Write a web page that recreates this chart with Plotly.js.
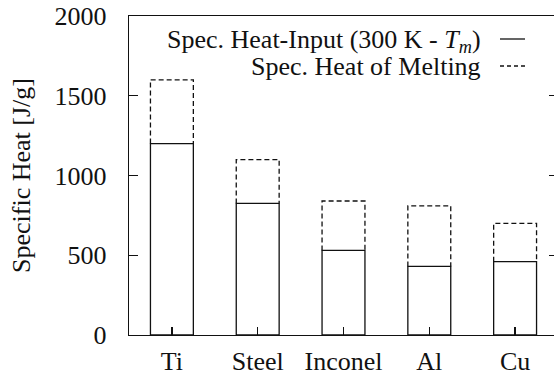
<!DOCTYPE html>
<html>
<head>
<meta charset="utf-8">
<script src="https://cdn.plot.ly/plotly-3.0.1.min.js"></script>
<style>
html, body { margin: 0; padding: 0; overflow: hidden; background: #fff; }
</style>
</head>
<body>
<div id="chart"></div>
<script>
// ---- data ----
const categories = ["Ti", "Steel", "Inconel", "Al", "Cu"];
const heatInput = [1200, 825, 530, 430, 460];      // Spec. Heat-Input (300 K - Tm)
const heatMelting = [400, 275, 310, 380, 240];     // Spec. Heat of Melting
const yTicks = [0, 500, 1000, 1500, 2000];
const legendLabels = ["Spec. Heat-Input (300 K - <i>T</i><sub><i>m</i></sub>)", "Spec. Heat of Melting"];

// ---- build ----
const serifFamily = "Liberation Serif";
const halfW = 0.25;
const idx = categories.map((c, i) => i);

const solidBars = {
  type: "bar",
  x: idx,
  y: heatInput,
  width: 0.5,
  marker: { color: "#ffffff", line: { color: "#111", width: 1.3 } },
  showlegend: false,
  hoverinfo: "skip"
};

// dashed outline of stacked melting part
const ox = [], oy = [];
idx.forEach(i => {
  const base = heatInput[i];
  const top = heatInput[i] + heatMelting[i];
  ox.push(i - halfW, i - halfW, i + halfW, i + halfW, null);
  oy.push(base, top, top, base, null);
});
const dashedOutline = {
  type: "scatter",
  mode: "lines",
  x: ox,
  y: oy,
  line: { color: "#111", width: 1.3, dash: "5px,3px" },
  showlegend: false,
  hoverinfo: "skip"
};

const W = 558, H = 376, ML = 129, MR = 0, MT = 16, MB = 41;
const pw = W - ML - MR, ph = H - MT - MB;
const px = v => (v - ML) / pw;
const py = v => (H - MB - v) / ph;

const lineRows = [39, 66];
const textRows = [41, 66];
const annotations = legendLabels.map((t, k) => ({
  text: t, xref: "paper", yref: "paper",
  x: px(483), y: py(textRows[k]),
  xanchor: "right", yanchor: "middle",
  showarrow: false,
  font: { family: serifFamily, size: 26 }
}));
const shapes = [
  { type: "line", xref: "paper", yref: "paper", x0: px(500), x1: px(525), y0: py(lineRows[0]), y1: py(lineRows[0]),
    line: { color: "#111", width: 1.3 } },
  { type: "line", xref: "paper", yref: "paper", x0: px(500), x1: px(525), y0: py(lineRows[1]), y1: py(lineRows[1]),
    line: { color: "#111", width: 1.3, dash: "4px,3px" } }
];

const layout = {
  width: W, height: H,
  margin: { l: ML, r: MR, t: MT, b: MB, pad: 0 },
  paper_bgcolor: "#fff", plot_bgcolor: "#fff",
  font: { family: serifFamily, size: 26, color: "#111111" },
  showlegend: false,
  xaxis: {
    range: [-0.5, 4.5],
    tickvals: idx, ticktext: categories,
    ticks: "inside", ticklen: 8, tickwidth: 1.2, tickcolor: "#111",
    showline: true, linecolor: "#111", linewidth: 1.3, mirror: true,
    showgrid: false, zeroline: false, ticklabelstandoff: 2,
    tickfont: { family: serifFamily, size: 26 }
  },
  yaxis: {
    range: [0, 2000],
    tickvals: yTicks, ticktext: yTicks.map(String),
    ticks: "inside", ticklen: 9, tickwidth: 1.2, tickcolor: "#111",
    showline: true, linecolor: "#111", linewidth: 1.3, mirror: "ticks",
    showgrid: false, zeroline: false, ticklabelstandoff: 16,
    tickfont: { family: serifFamily, size: 26 },
    title: { text: "Specific Heat [J/g]", standoff: 16, font: { family: serifFamily, size: 26 } }
  },
  annotations: annotations,
  shapes: shapes
};

Plotly.newPlot("chart", [solidBars, dashedOutline], layout, { staticPlot: true, displayModeBar: false });
</script>
</body>
</html>
